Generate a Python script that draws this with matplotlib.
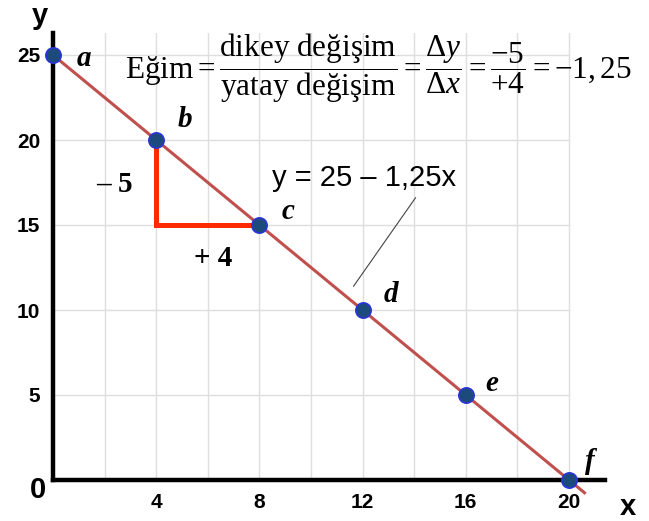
import numpy as np
import matplotlib.pyplot as plt

plt.rcParams['mathtext.fontset'] = 'custom'
plt.rcParams['mathtext.rm'] = 'Liberation Serif'
plt.rcParams['mathtext.it'] = 'Liberation Serif:italic'

# points on the line y = 25 - 1.25x
labels = ['a', 'b', 'c', 'd', 'e', 'f']
xs = [0, 4, 8, 12, 16, 20]
ys = [25, 20, 15, 10, 5, 0]
intercept = 25
slope = -1.25
x_ticks = [4, 8, 12, 16, 20]
y_ticks = [5, 10, 15, 20, 25]

W, H = 649, 521
fig = plt.figure(figsize=(W / 100, H / 100), dpi=100)
x0, x1 = 0, 21.4
y0, y1 = 0, 26.3
left_px, bottom_px, ppx, ppy = 53, 480, 25.8, 17.0
ax = fig.add_axes([left_px / W, (H - bottom_px) / H,
                   (x1 - x0) * ppx / W, (y1 - y0) * ppy / H])
ax.set_xlim(x0, x1)
ax.set_ylim(y0, y1)

# light grid, only up to x = 20
for gx in range(2, 21, 2):
    ax.plot([gx, gx], [0, y1], color='#dedede', lw=1, zorder=0)
for gy in y_ticks:
    ax.plot([0, 20], [gy, gy], color='#dedede', lw=1, zorder=0)

for side in ['top', 'right']:
    ax.spines[side].set_visible(False)
for side in ['left', 'bottom']:
    ax.spines[side].set_linewidth(3.2)
    ax.spines[side].set_color('black')

ax.set_xticks(x_ticks)
ax.set_yticks(y_ticks)
ax.tick_params(length=0, pad=9)
for t in ax.get_xticklabels() + ax.get_yticklabels():
    t.set_fontfamily('Liberation Sans')
    t.set_fontweight('bold')
    t.set_fontsize(15)

# the line itself, running a bit past f
lx = np.array([0, 20.6])
ax.plot(lx, intercept + slope * lx, color='#c0504d', lw=2.2, zorder=2, clip_on=False)

# rise / run triangle between b and c
ax.plot([xs[1], xs[1], xs[2]], [ys[1], ys[2], ys[2]], color='#ff2a00', lw=3.6,
        solid_joinstyle='miter', zorder=3)

ax.plot(xs, ys, 'o', ms=11, mfc='#1c4a7c', mec='#2a35d8', mew=1.2,
        zorder=5, clip_on=False)

offsets = [(1.2, -0.2), (1.1, 1.2), (1.1, 0.8), (1.1, 0.9), (1.0, 0.7), (0.8, 1.1)]
for lab, x, y, (dx, dy) in zip(labels, xs, ys, offsets):
    ax.text(x + dx, y + dy, lab, fontfamily='Liberation Serif', style='italic',
            fontweight='bold', fontsize=21, ha='center', va='center')

ax.text(2.4, 17.4, '– 5', fontfamily='Liberation Serif', fontweight='bold',
        fontsize=21, ha='center', va='center')
ax.text(6.2, 13.0, '+ 4', fontfamily='Liberation Serif', fontweight='bold',
        fontsize=21, ha='center', va='center')

ax.text(12.05, 17.75, 'y = 25 – 1,25x', fontfamily='Liberation Sans', fontsize=21,
        ha='center', va='center')
ax.plot([14.05, 11.65], [16.6, 11.4], color='#444444', lw=0.8)

eq = (r'$\mathrm{Eğim} = \dfrac{\mathrm{dikey\ değişim}}{\mathrm{yatay\ değişim}}'
      r' = \dfrac{\Delta y}{\Delta x} = \dfrac{-5}{+4} = -1,25$')
ax.text(12.6, 24.2, eq, fontsize=22.5, ha='center', va='center')

# axis letters and origin
fig.text(40 / W, 1 - 16 / H, 'y', fontfamily='Liberation Sans', fontweight='bold',
         fontsize=21, ha='center', va='center')
fig.text(628 / W, 1 - 507 / H, 'x', fontfamily='Liberation Sans', fontweight='bold',
         fontsize=21, ha='center', va='center')
fig.text(38 / W, 1 - 490 / H, '0', fontfamily='Liberation Sans', fontweight='bold',
         fontsize=21, ha='center', va='center')

fig.savefig('out.png', dpi=100)
